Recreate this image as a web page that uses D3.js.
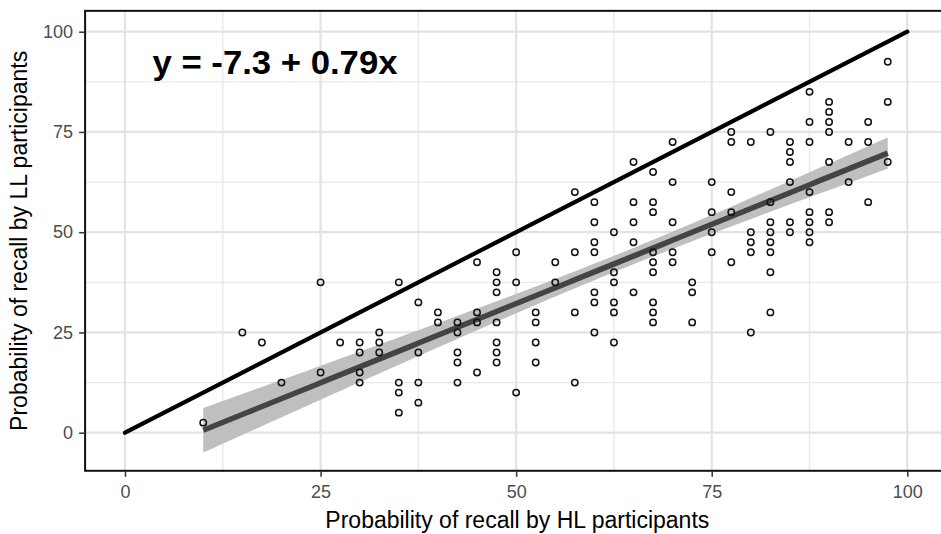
<!DOCTYPE html>
<html>
<head>
<meta charset="utf-8">
<script src="https://cdn.jsdelivr.net/npm/d3@7"></script>
<style>
  html, body { margin: 0; padding: 0; background: #fff; }
  svg { display: block; }
  text { font-family: "Liberation Sans", Arial, Helvetica, sans-serif; }
</style>
</head>
<body>
<svg id="chart" width="941" height="534"></svg>
<script>
// ---- data ----
const hlRecall = [
  10, 15, 17.5, 20, 25, 25, 27.5, 30, 30, 30, 30, 32.5, 32.5, 32.5,
  35, 35, 35, 35, 37.5, 37.5, 37.5, 37.5, 40, 40,
  42.5, 42.5, 42.5, 42.5, 42.5, 45, 45, 45, 45,
  47.5, 47.5, 47.5, 47.5, 47.5, 47.5, 47.5, 50, 50, 50,
  52.5, 52.5, 52.5, 52.5, 55, 55, 57.5, 57.5, 57.5, 57.5,
  60, 60, 60, 60, 60, 60, 60, 62.5, 62.5, 62.5, 62.5, 62.5, 62.5,
  65, 65, 65, 65, 65,
  67.5, 67.5, 67.5, 67.5, 67.5, 67.5, 67.5, 67.5, 67.5,
  70, 70, 70, 70, 70, 72.5, 72.5, 72.5, 75, 75, 75, 75,
  77.5, 77.5, 77.5, 77.5, 77.5, 80, 80, 80, 80, 80,
  82.5, 82.5, 82.5, 82.5, 82.5, 82.5, 82.5, 82.5,
  85, 85, 85, 85, 85, 85,
  87.5, 87.5, 87.5, 87.5, 87.5, 87.5, 87.5, 87.5,
  90, 90, 90, 90, 90, 90, 90, 92.5, 92.5, 95, 95, 95, 97.5, 97.5, 97.5
];
const llRecall = [
  2.5, 25, 22.5, 12.5, 37.5, 15, 22.5, 22.5, 20, 15, 12.5, 25, 22.5, 20,
  37.5, 12.5, 10, 5, 32.5, 20, 12.5, 7.5, 30, 27.5,
  27.5, 25, 20, 17.5, 12.5, 42.5, 30, 27.5, 15,
  40, 37.5, 35, 27.5, 22.5, 20, 17.5, 45, 37.5, 10,
  30, 27.5, 22.5, 17.5, 42.5, 37.5, 60, 45, 30, 12.5,
  57.5, 52.5, 47.5, 45, 35, 32.5, 25, 50, 40, 37.5, 32.5, 30, 22.5,
  67.5, 57.5, 52.5, 47.5, 35,
  65, 57.5, 55, 45, 42.5, 40, 32.5, 30, 27.5,
  72.5, 62.5, 52.5, 45, 42.5, 37.5, 35, 27.5, 62.5, 55, 50, 45,
  75, 72.5, 60, 55, 42.5, 72.5, 50, 47.5, 45, 25,
  75, 57.5, 52.5, 50, 47.5, 45, 40, 30,
  72.5, 70, 67.5, 62.5, 52.5, 50,
  85, 77.5, 72.5, 60, 55, 52.5, 50, 47.5,
  82.5, 80, 77.5, 75, 67.5, 55, 52.5, 72.5, 62.5, 77.5, 72.5, 57.5, 92.5, 82.5, 67.5
];
const fitIntercept = -7.3;
const fitSlope = 0.79;
const identityLine = [0, 100];
const tickValues = [0, 25, 50, 75, 100];
const minorValues = [12.5, 37.5, 62.5, 87.5];
const equationLabel = "y = -7.3 + 0.79x";
const xTitle = "Probability of recall by HL participants";
const yTitle = "Probability of recall by LL participants";

// ---- layout ----
const svg = d3.select("#chart");
const x = d3.scaleLinear().domain([0, 100]).range([125, 907.3]);
const y = d3.scaleLinear().domain([0, 100]).range([432.7, 31.7]);
const panel = { x0: x(-5.1), x1: x(105.4), y0: y(105.2), y1: y(-9.5) };

// panel background & grid
const g = svg.append("g");
g.append("rect").attr("x", panel.x0).attr("y", panel.y0)
  .attr("width", panel.x1 - panel.x0).attr("height", panel.y1 - panel.y0)
  .attr("fill", "#fff");

const grid = g.append("g");
minorValues.forEach(v => {
  grid.append("line").attr("x1", x(v)).attr("x2", x(v)).attr("y1", panel.y0).attr("y2", panel.y1)
    .attr("stroke", "#e9e9e9").attr("stroke-width", 1.4);
  grid.append("line").attr("y1", y(v)).attr("y2", y(v)).attr("x1", panel.x0).attr("x2", panel.x1)
    .attr("stroke", "#e9e9e9").attr("stroke-width", 1.4);
});
tickValues.forEach(v => {
  grid.append("line").attr("x1", x(v)).attr("x2", x(v)).attr("y1", panel.y0).attr("y2", panel.y1)
    .attr("stroke", "#e3e3e3").attr("stroke-width", 2.2);
  grid.append("line").attr("y1", y(v)).attr("y2", y(v)).attr("x1", panel.x0).attr("x2", panel.x1)
    .attr("stroke", "#e3e3e3").attr("stroke-width", 2.2);
});

// ---- regression ribbon (95% CI of the mean, from the points) ----
const n = hlRecall.length;
const xMean = d3.mean(hlRecall);
const sxx = d3.sum(hlRecall, v => (v - xMean) ** 2);
const sse = d3.sum(hlRecall, (v, i) => (llRecall[i] - (fitIntercept + fitSlope * v)) ** 2);
const sRes = Math.sqrt(sse / (n - 2));
const tCrit = 1.976;
const xMin = d3.min(hlRecall), xMax = d3.max(hlRecall);
const grid80 = d3.range(80).map(i => xMin + (xMax - xMin) * i / 79);
const band = grid80.map(v => {
  const fit = fitIntercept + fitSlope * v;
  const se = sRes * Math.sqrt(1 / n + (v - xMean) ** 2 / sxx);
  return { x: v, fit, lo: fit - tCrit * se, hi: fit + tCrit * se };
});

g.append("path").datum(band)
  .attr("d", d3.area().x(d => x(d.x)).y0(d => y(d.lo)).y1(d => y(d.hi)))
  .attr("fill", "#bfbfbf");

// identity line
g.append("line")
  .attr("x1", x(identityLine[0])).attr("y1", y(identityLine[0]))
  .attr("x2", x(identityLine[1])).attr("y2", y(identityLine[1]))
  .attr("stroke", "#000").attr("stroke-width", 4.2).attr("stroke-linecap", "round");

// fit line
g.append("path").datum(band)
  .attr("d", d3.line().x(d => x(d.x)).y(d => y(d.fit)))
  .attr("fill", "none").attr("stroke", "#444").attr("stroke-width", 5.5);

// points
g.append("g").selectAll("circle").data(hlRecall).join("circle")
  .attr("cx", d => x(d)).attr("cy", (d, i) => y(llRecall[i]))
  .attr("r", 3.2).attr("fill", "none").attr("stroke", "#111").attr("stroke-width", 1.5);

// equation
svg.append("text").attr("x", 152.5).attr("y", 74)
  .attr("font-size", 33).attr("font-weight", "bold").attr("fill", "#000")
  .attr("textLength", 245).attr("lengthAdjust", "spacingAndGlyphs")
  .text(equationLabel);

// panel border
svg.append("rect").attr("x", panel.x0).attr("y", panel.y0)
  .attr("width", panel.x1 - panel.x0).attr("height", panel.y1 - panel.y0)
  .attr("fill", "none").attr("stroke", "#111").attr("stroke-width", 2);

// axes
const xAxis = svg.append("g").attr("transform", `translate(0,${panel.y1})`)
  .call(d3.axisBottom(x).tickValues(tickValues).tickSize(6).tickPadding(8).tickFormat(d3.format("d")));
const yAxis = svg.append("g").attr("transform", `translate(${panel.x0},0)`)
  .call(d3.axisLeft(y).tickValues(tickValues).tickSize(6).tickPadding(6).tickFormat(d3.format("d")));
[xAxis, yAxis].forEach(a => {
  a.select(".domain").remove();
  a.selectAll(".tick line").attr("stroke", "#333").attr("stroke-width", 1.5);
  a.selectAll(".tick text").attr("fill", "#4d4d4d").attr("font-size", 18)
    .attr("font-family", "'Liberation Sans', Arial, sans-serif");
});

// axis titles
svg.append("text").attr("x", (panel.x0 + panel.x1) / 2).attr("y", 528)
  .attr("text-anchor", "middle").attr("font-size", 23).attr("fill", "#000").text(xTitle);
svg.append("text")
  .attr("transform", `translate(27,${(panel.y0 + panel.y1) / 2}) rotate(-90)`)
  .attr("text-anchor", "middle").attr("font-size", 23).attr("fill", "#000").text(yTitle);
</script>
</body>
</html>
